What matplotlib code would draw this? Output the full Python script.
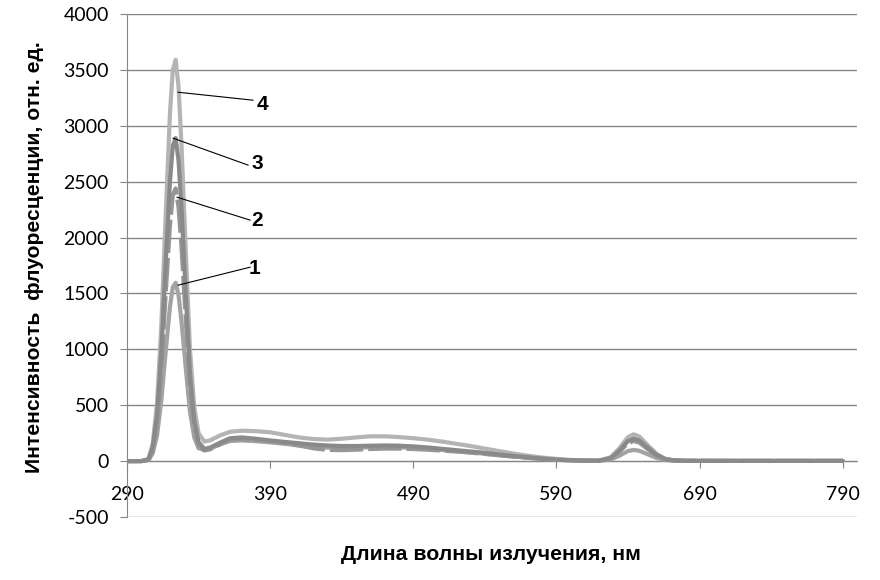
import matplotlib
matplotlib.use("Agg")
import matplotlib.pyplot as plt

plt.rcParams["axes.unicode_minus"] = False

# wavelength grid, nm
wavelength = [290, 300, 305, 308, 311, 314, 317, 320, 322, 324,
              326, 328, 331, 334, 337, 340, 344, 348, 355, 362,
              370, 380, 390, 400, 410, 420, 430, 440, 450, 460,
              470, 480, 490, 500, 510, 520, 530, 540, 550, 560,
              570, 580, 590, 600, 610, 620, 628, 634, 640, 644,
              648, 654, 660, 666, 672, 680, 700, 720, 740, 760,
              790]

curve1 = [0, 0, 8, 70, 230, 545, 975, 1380, 1555, 1595,
          1485, 1260, 840, 440, 210, 115, 100, 110, 150, 180,
          185, 178, 168, 155, 140, 128, 120, 118, 120, 124,
          126, 124, 118, 110, 100, 90, 78, 66, 54, 42,
          30, 20, 12, 7, 4, 3, 14, 48, 90, 100,
          92, 60, 28, 10, 4, 2, 2, 2, 2, 2,
          2]

curve2 = [0, 0, 12, 105, 350, 830, 1490, 2110, 2380, 2440,
          2270, 1930, 1280, 660, 300, 140, 95, 105, 150, 190,
          198, 190, 178, 162, 140, 115, 100, 98, 102, 108,
          112, 112, 108, 102, 94, 86, 76, 64, 52, 40,
          30, 20, 12, 7, 4, 4, 25, 85, 160, 180,
          165, 105, 48, 16, 6, 3, 2, 2, 2, 2,
          2]

curve3 = [0, 0, 15, 125, 415, 980, 1760, 2500, 2820, 2890,
          2690, 2280, 1510, 780, 360, 170, 110, 120, 165, 205,
          212, 200, 185, 172, 160, 148, 140, 135, 135, 138,
          140, 138, 132, 122, 110, 98, 86, 74, 60, 46,
          34, 22, 14, 8, 4, 5, 28, 95, 180, 200,
          185, 118, 55, 18, 7, 3, 2, 2, 2, 2,
          2]

curve4 = [0, 0, 20, 160, 520, 1220, 2190, 3110, 3500, 3590,
          3350, 2850, 1900, 1000, 480, 250, 175, 185, 230, 262,
          272, 268, 258, 235, 212, 198, 192, 200, 212, 222,
          222, 215, 205, 192, 175, 155, 135, 112, 90, 68,
          48, 32, 20, 10, 5, 6, 35, 115, 215, 240,
          220, 140, 65, 22, 8, 4, 3, 2, 2, 2,
          2]

x_ticks = [290, 390, 490, 590, 690, 790]
y_ticks = [-500, 0, 500, 1000, 1500, 2000, 2500, 3000, 3500, 4000]

# curve labels: (name, leader start, leader end, text position)
labels = [
    ("4", (325.7, 3300), (378, 3229), (384.8, 3189)),
    ("3", (322.2, 2889), (374.6, 2648), (381.3, 2661)),
    ("2", (325.0, 2361), (376, 2156), (380.6, 2151)),
    ("1", (325.7, 1574), (376, 1735), (378.8, 1722)),
]

AXIS = "#868686"

fig = plt.figure(figsize=(8.8, 5.8), dpi=100)
ax = fig.add_axes([127 / 880, 1 - 517 / 580, 730 / 880, 503 / 580])

ax.plot(wavelength, curve4, color="#b4b4b4", lw=3.0, solid_capstyle="round", zorder=3)
ax.plot(wavelength, curve1, color="#a3a3a3", lw=3.0, solid_capstyle="round", zorder=3)
ax.plot(wavelength, curve2, color="#969696", lw=3.0, dashes=(8, 1.2), zorder=3)
ax.plot(wavelength, curve3, color="#8a8a8a", lw=3.0, solid_capstyle="round", zorder=3)

for name, p0, p1, pt in labels:
    ax.plot([p0[0], p1[0]], [p0[1], p1[1]], color="black", lw=0.8, zorder=4)
    ax.text(pt[0], pt[1], name, ha="center", va="center", fontsize=15,
            fontweight="bold", family="Liberation Sans", zorder=5)

ax.set_xlim(290, 800)
ax.set_ylim(-500, 4000)
ax.set_xticks(x_ticks)
ax.set_yticks(y_ticks)

ax.grid(axis="y", color=AXIS, lw=1.0, zorder=0)
ax.set_axisbelow(True)

ax.spines["top"].set_visible(False)
ax.spines["right"].set_visible(False)
ax.spines["bottom"].set_position(("data", 0))
ax.spines["bottom"].set_color(AXIS)
ax.spines["left"].set_color(AXIS)

ax.tick_params(axis="x", direction="out", length=5, color=AXIS, pad=13,
               labelsize=14)
ax.tick_params(axis="y", direction="out", length=5, color=AXIS, pad=8,
               labelsize=14)
for lab in ax.get_xticklabels() + ax.get_yticklabels():
    lab.set_family("Lato")

fig.text(491 / 880, 1 - 555 / 580, "Длина волны излучения, нм", ha="center",
         va="center", fontsize=15.3, fontweight="bold", family="Liberation Sans")
fig.text(35 / 880, 1 - 257 / 580, "Интенсивность  флуоресценции, отн. ед.",
         ha="center", va="center", rotation=90, fontsize=15.2,
         fontweight="bold", family="Liberation Sans")

fig.savefig("out.png", dpi=100)
